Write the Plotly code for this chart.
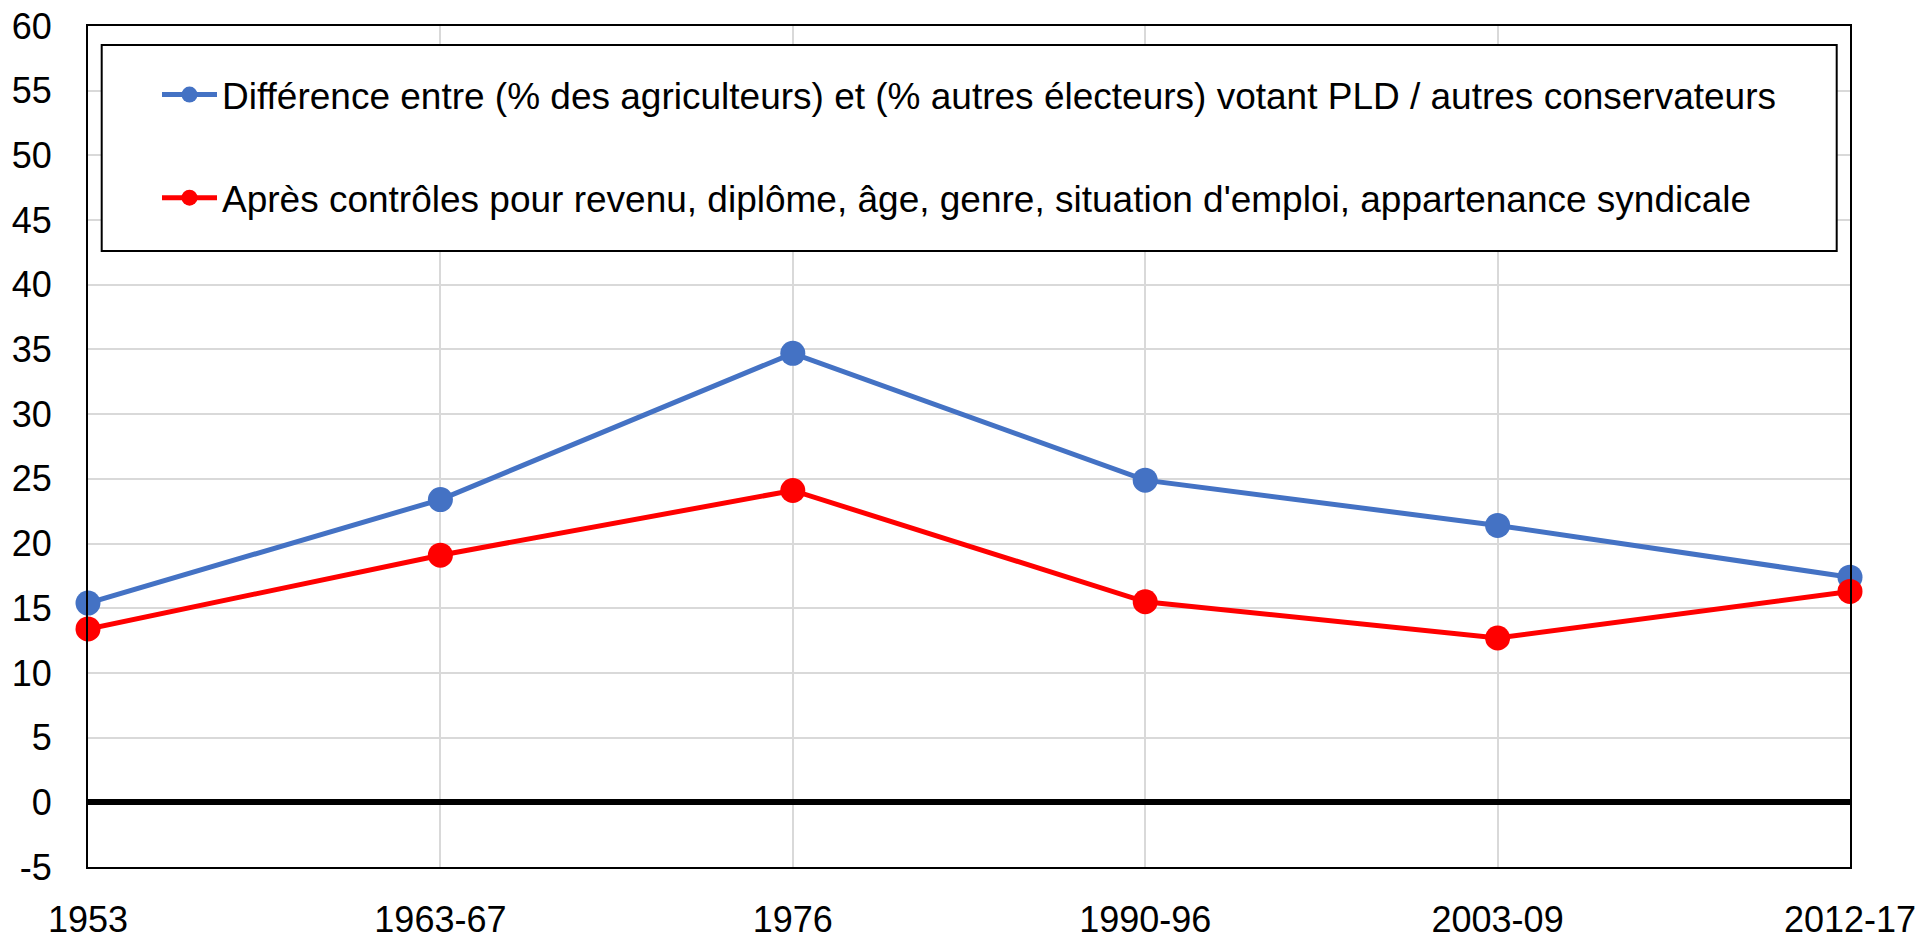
import plotly.graph_objects as go

# Periods on the x axis
periods = ["1953", "1963-67", "1976", "1990-96", "2003-09", "2012-17"]

# Gap between farmers and other voters voting LDP / other conservatives (points)
gap_raw = [15.4, 23.4, 34.7, 24.9, 21.4, 17.4]
# Same gap after controls
gap_controlled = [13.4, 19.1, 24.1, 15.5, 12.7, 16.3]

name_raw = "Différence entre (% des agriculteurs) et (% autres électeurs) votant PLD / autres conservateurs"
name_controlled = "Après contrôles pour revenu, diplôme, âge, genre, situation d'emploi, appartenance syndicale"

y_ticks = list(range(-5, 61, 5))
y_ticktext = [str(v) for v in y_ticks]

W, H = 1923, 939
ML, MR, MT, MB = 88, 73, 26, 72
PW, PH = W - ML - MR, H - MT - MB


def px_x(px):
    return (px - ML) / PW


def px_y(py):
    return (H - MB - py) / PH


FONT = "Liberation Sans, Arial, sans-serif"
x_idx = list(range(len(periods)))

fig = go.Figure()
fig.add_trace(go.Scatter(
    x=x_idx, y=gap_raw, name=name_raw, mode="lines+markers",
    line=dict(color="#4472C4", width=5),
    marker=dict(color="#4472C4", size=25),
    cliponaxis=False, legendgroup="a",
))
fig.add_trace(go.Scatter(
    x=x_idx, y=gap_controlled, name=name_controlled, mode="lines+markers",
    line=dict(color="#FF0000", width=5),
    marker=dict(color="#FF0000", size=25),
    cliponaxis=False, legendgroup="b",
))

# Legend frame
fig.add_shape(
    type="rect", xref="paper", yref="paper",
    x0=px_x(101.7), x1=px_x(1836.7), y0=px_y(251), y1=px_y(45),
    line=dict(color="black", width=2), fillcolor="white", layer="above",
)

fig.update_layout(
    width=W, height=H,
    margin=dict(l=ML, r=MR, t=MT, b=MB, pad=0, autoexpand=False),
    paper_bgcolor="white", plot_bgcolor="white",
    font=dict(family=FONT, color="black", size=36),
    showlegend=True,
    legend=dict(
        x=px_x(157), y=px_y(64), xanchor="left", yanchor="top",
        xref="paper", yref="paper",
        bgcolor="rgba(0,0,0,0)", borderwidth=0,
        font=dict(family=FONT, size=37, color="black"),
        tracegroupgap=52, itemwidth=55,
        traceorder="grouped",
    ),
    xaxis=dict(
        range=[0, 5], tickmode="array", tickvals=x_idx, ticktext=periods,
        showgrid=True, gridcolor="#d9d9d9", gridwidth=2,
        showline=True, mirror=True, linecolor="black", linewidth=2,
        ticks="", ticklabelstandoff=20, zeroline=False, automargin=False,
        tickfont=dict(family=FONT, size=36, color="black"),
    ),
    yaxis=dict(
        range=[-5, 60], tickmode="array", tickvals=y_ticks, ticktext=y_ticktext,
        showgrid=True, gridcolor="#d9d9d9", gridwidth=2,
        showline=True, mirror=True, linecolor="black", linewidth=2,
        ticks="", ticklabelstandoff=27, automargin=False,
        zeroline=True, zerolinecolor="black", zerolinewidth=6,
        tickfont=dict(family=FONT, size=36, color="black"),
    ),
)

fig.write_html("out.html")
